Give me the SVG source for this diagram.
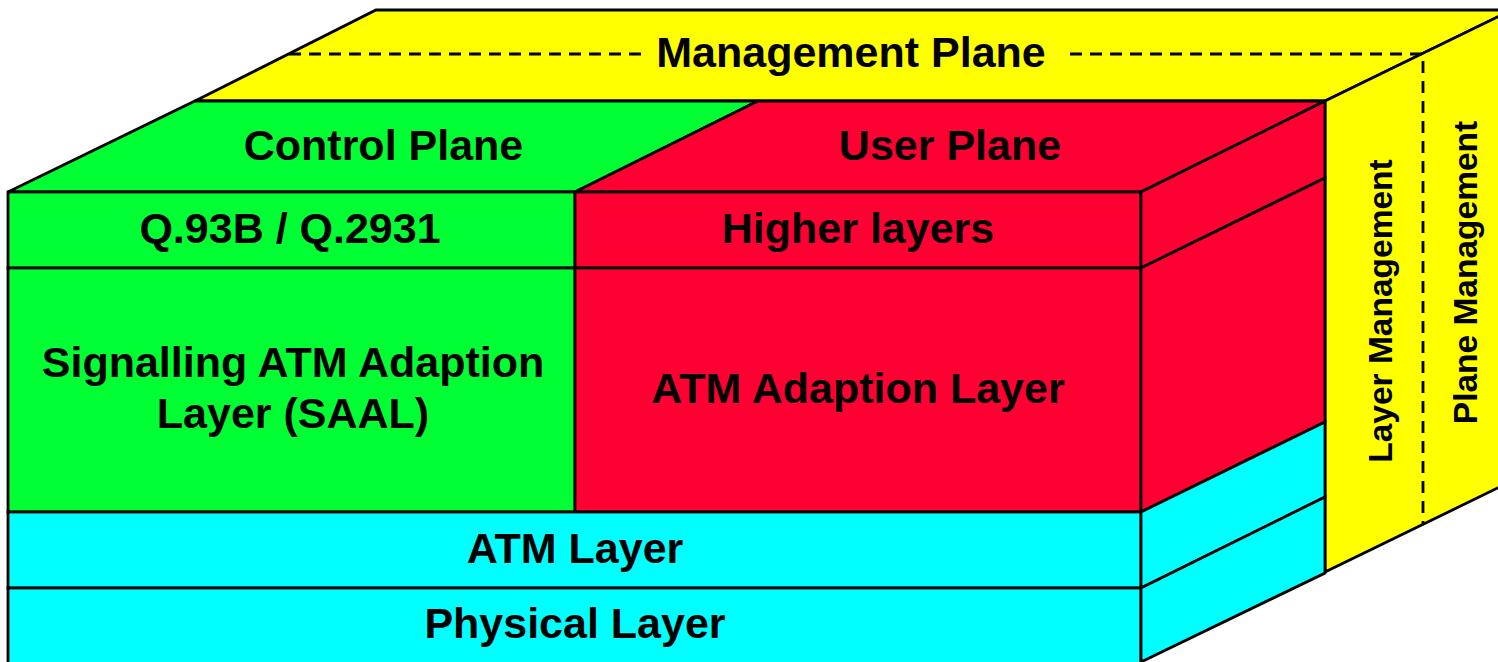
<svg xmlns="http://www.w3.org/2000/svg" width="1498" height="662" viewBox="0 0 1498 662">
<style>
.o{stroke:#000;stroke-width:2.8;stroke-linejoin:miter}
.y{fill:#FFFF00}
.g{fill:#00FF33}
.r{fill:#FF0033}
.c{fill:#00FFFF}
.d{fill:none;stroke:#000;stroke-width:2.8;stroke-dasharray:12 8}
.t{font-family:"Liberation Sans",Arial,Helvetica,sans-serif;font-weight:bold;font-size:43px;fill:#000;text-anchor:middle}
.v{font-family:"Liberation Sans",Arial,Helvetica,sans-serif;font-weight:bold;font-size:33.5px;fill:#000;text-anchor:middle}
</style>
<rect width="1498" height="662" fill="#fff"/>
<g id="management-plane">
<polygon class="o y" points="195,101 376,10 1512,10 1325,101"/>
<polygon class="o y" points="1325,101 1512,10 1512,481 1325,572"/>
<polyline class="d" points="289,54 643,54"/>
<polyline class="d" points="1070,54 1423,54 1423,524"/>
<text class="t" x="851" y="67">Management Plane</text>
<text class="v" transform="translate(1392,311) rotate(-90)">Layer Management</text>
<text class="v" transform="translate(1477,272.5) rotate(-90)">Plane Management</text>
</g>
<g id="control-plane">
<polygon class="o g" points="8,192 195,101 758,101 575,192"/>
<text class="t" x="383.5" y="160">Control Plane</text>
</g>
<g id="user-plane">
<polygon class="o r" points="575,192 758,101 1325,101 1141,192"/>
<text class="t" x="950" y="160">User Plane</text>
</g>
<g id="q93b">
<rect class="o g" x="8" y="192" width="567" height="76"/>
<text class="t" x="290" y="243">Q.93B / Q.2931</text>
</g>
<g id="saal">
<rect class="o g" x="8" y="268" width="567" height="244"/>
<text class="t" x="293" y="377">Signalling ATM Adaption</text>
<text class="t" x="293" y="428">Layer (SAAL)</text>
</g>
<g id="higher-layers">
<rect class="o r" x="575" y="192" width="566" height="76"/>
<polygon class="o r" points="1141,192 1325,101 1325,178 1141,268"/>
<text class="t" x="858" y="243">Higher layers</text>
</g>
<g id="aal">
<rect class="o r" x="575" y="268" width="566" height="244"/>
<polygon class="o r" points="1141,268 1325,178 1325,422 1141,512"/>
<text class="t" x="858" y="403">ATM Adaption Layer</text>
</g>
<g id="atm-layer">
<rect class="o c" x="8" y="512" width="1133" height="76"/>
<polygon class="o c" points="1141,512 1325,422 1325,497 1141,588"/>
<text class="t" x="575" y="563">ATM Layer</text>
</g>
<g id="physical-layer">
<rect class="o c" x="8" y="588" width="1133" height="90"/>
<polygon class="o c" points="1141,588 1325,497 1325,573 1141,662"/>
<text class="t" x="575" y="638">Physical Layer</text>
</g>
<g id="connectors"/>
</svg>
